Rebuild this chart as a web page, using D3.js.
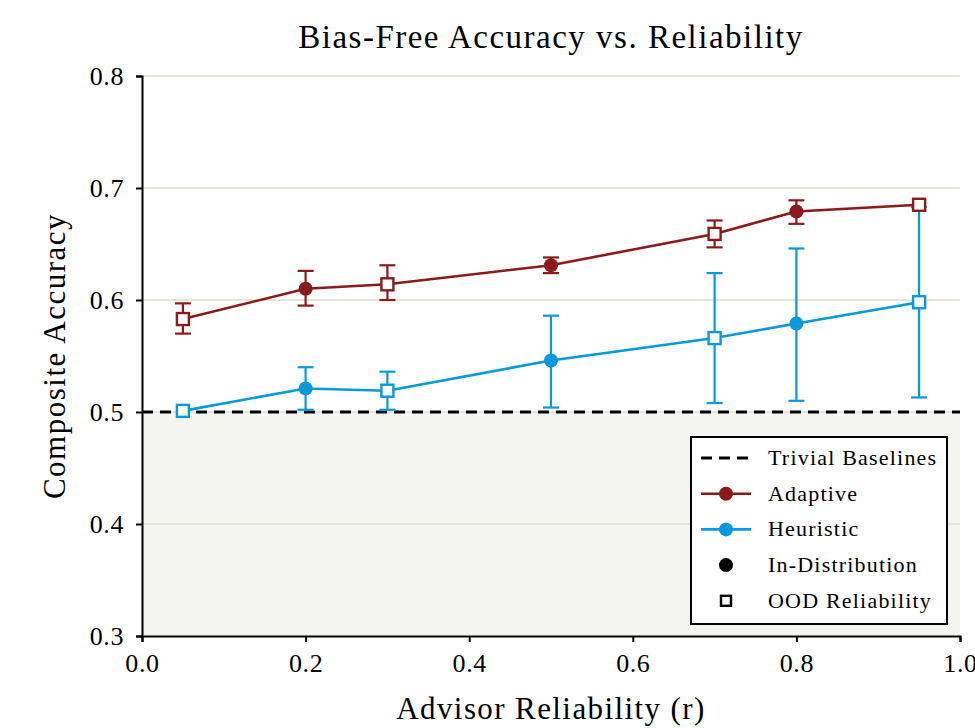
<!DOCTYPE html>
<html>
<head>
<meta charset="utf-8">
<script src="https://cdn.jsdelivr.net/npm/d3@7"></script>
<style>
  body { margin: 0; background: #fff; }
  svg { font-family: "Liberation Serif", "DejaVu Serif", serif; }
</style>
</head>
<body>
<svg id="chart" width="975" height="728"></svg>
<script>
// advisor reliability values
const reliability = [0.05, 0.2, 0.3, 0.5, 0.7, 0.8, 0.95];
// which points are out-of-distribution (square markers)
const isOOD = [true, false, true, false, true, false, true];

const adaptiveMean = [0.583, 0.610, 0.614, 0.631, 0.659, 0.679, 0.685];
const adaptiveLow = [0.570, 0.595, 0.600, 0.624, 0.647, 0.668, 0.683];
const adaptiveHigh = [0.597, 0.626, 0.631, 0.638, 0.671, 0.689, 0.687];

const heuristicMean = [0.501, 0.521, 0.519, 0.546, 0.566, 0.579, 0.598];
const heuristicLow = [0.500, 0.502, 0.502, 0.504, 0.508, 0.510, 0.513];
const heuristicHigh = [0.502, 0.540, 0.536, 0.586, 0.624, 0.646, 0.683];

const baseline = 0.5;
const xTicks = [0, 0.2, 0.4, 0.6, 0.8, 1.0];
const yTicks = [0.3, 0.4, 0.5, 0.6, 0.7, 0.8];

const legendItems = ['Trivial Baselines', 'Adaptive', 'Heuristic', 'In-Distribution', 'OOD Reliability'];

const red = '#8b1a1a';
const blue = '#0799dc';

const svg = d3.select('#chart');
const margin = { left: 142, right: 15, top: 76, bottom: 92 };
const W = 975, H = 728;

const x = d3.scaleLinear().domain([0, 1]).range([margin.left, W - margin.right]);
const y = d3.scaleLinear().domain([0.3, 0.8]).range([H - margin.bottom, margin.top]);

// shaded region below baseline
svg.append('rect')
  .attr('x', x(0)).attr('y', y(baseline))
  .attr('width', x(1) - x(0)).attr('height', y(0.3) - y(baseline))
  .attr('fill', '#f4f4f0');

// grid lines
svg.append('g')
  .selectAll('line')
  .data(yTicks.filter(d => d > 0.3))
  .join('line')
  .attr('x1', x(0)).attr('x2', x(1))
  .attr('y1', d => y(d)).attr('y2', d => y(d))
  .attr('stroke', '#dedccd')
  .attr('stroke-width', 1.5);

// baseline
svg.append('line')
  .attr('x1', x(0)).attr('x2', x(1))
  .attr('y1', y(baseline)).attr('y2', y(baseline))
  .attr('stroke', '#000')
  .attr('stroke-width', 3)
  .attr('stroke-dasharray', '11,7');

// axes
const xAxis = svg.append('g')
  .attr('transform', `translate(0,${y(0.3)})`)
  .call(d3.axisBottom(x).tickValues(xTicks).tickFormat(d3.format('.1f')).tickSizeOuter(0).tickSize(6).tickPadding(12));
const yAxis = svg.append('g')
  .attr('transform', `translate(${x(0)},0)`)
  .call(d3.axisLeft(y).tickValues(yTicks).tickFormat(d3.format('.1f')).tickSizeOuter(0).tickSize(6).tickPadding(12));
[xAxis, yAxis].forEach(a => {
  a.select('.domain').attr('stroke-width', 2);
  a.selectAll('.tick line').attr('stroke-width', 2);
  a.selectAll('.tick text')
    .style('font-family', '"Liberation Serif", serif')
    .style('font-size', '26px')
    .style('letter-spacing', '0.6px')
    .attr('fill', '#000');
});

function drawSeries(mean, low, high, color) {
  const g = svg.append('g');
  const pts = reliability.map((r, i) => ({ r, m: mean[i], lo: low[i], hi: high[i], ood: isOOD[i] }));
  // error bars
  const eb = g.selectAll('g.err').data(pts.filter(d => d.hi - d.lo > 0.006)).join('g');
  eb.append('line')
    .attr('x1', d => x(d.r)).attr('x2', d => x(d.r))
    .attr('y1', d => y(d.lo)).attr('y2', d => y(d.hi))
    .attr('stroke', color).attr('stroke-width', 2.2);
  ['lo', 'hi'].forEach(k => {
    eb.append('line')
      .attr('x1', d => x(d.r) - 8).attr('x2', d => x(d.r) + 8)
      .attr('y1', d => y(d[k])).attr('y2', d => y(d[k]))
      .attr('stroke', color).attr('stroke-width', 2.2);
  });
  g.append('path')
    .datum(pts)
    .attr('d', d3.line().x(d => x(d.r)).y(d => y(d.m)))
    .attr('fill', 'none').attr('stroke', color).attr('stroke-width', 2.6);
  g.selectAll('circle').data(pts.filter(d => !d.ood)).join('circle')
    .attr('cx', d => x(d.r)).attr('cy', d => y(d.m)).attr('r', 7)
    .attr('fill', color);
  g.selectAll('rect').data(pts.filter(d => d.ood)).join('rect')
    .attr('x', d => x(d.r) - 6).attr('y', d => y(d.m) - 6)
    .attr('width', 12).attr('height', 12)
    .attr('fill', '#fff').attr('stroke', color).attr('stroke-width', 2.4);
}

drawSeries(heuristicMean, heuristicLow, heuristicHigh, blue);
drawSeries(adaptiveMean, adaptiveLow, adaptiveHigh, red);

// title and labels
svg.append('text')
  .attr('x', (x(0) + x(1)) / 2).attr('y', 48)
  .attr('text-anchor', 'middle').attr('font-size', 33).attr('letter-spacing', 1.5)
  .text('Bias-Free Accuracy vs. Reliability');
svg.append('text')
  .attr('x', (x(0) + x(1)) / 2).attr('y', 719)
  .attr('text-anchor', 'middle').attr('font-size', 31).attr('letter-spacing', 1.4)
  .text('Advisor Reliability (r)');
svg.append('text')
  .attr('transform', `translate(65,${(y(0.3) + y(0.8)) / 2}) rotate(-90)`)
  .attr('text-anchor', 'middle').attr('font-size', 31).attr('letter-spacing', 1.5)
  .text('Composite Accuracy');

// legend
const lg = svg.append('g').attr('transform', 'translate(691,437)');
lg.append('rect').attr('width', 256).attr('height', 187)
  .attr('fill', '#fff').attr('stroke', '#000').attr('stroke-width', 2);
const rowY = i => 21 + i * 35.7;
lg.selectAll('text').data(legendItems).join('text')
  .attr('x', 77).attr('y', (d, i) => rowY(i) + 7)
  .attr('font-size', 22).attr('letter-spacing', 1.2).text(d => d);
// symbols
lg.append('line').attr('x1', 10).attr('x2', 60).attr('y1', rowY(0)).attr('y2', rowY(0))
  .attr('stroke', '#000').attr('stroke-width', 3).attr('stroke-dasharray', '11,7');
[[red, 1], [blue, 2]].forEach(([c, i]) => {
  lg.append('line').attr('x1', 10).attr('x2', 60).attr('y1', rowY(i)).attr('y2', rowY(i))
    .attr('stroke', c).attr('stroke-width', 2.6);
  lg.append('circle').attr('cx', 35).attr('cy', rowY(i)).attr('r', 7).attr('fill', c);
});
lg.append('circle').attr('cx', 35).attr('cy', rowY(3)).attr('r', 7).attr('fill', '#000');
lg.append('rect').attr('x', 30).attr('y', rowY(4) - 5).attr('width', 10).attr('height', 10)
  .attr('fill', '#fff').attr('stroke', '#000').attr('stroke-width', 2.4);
</script>
</body>
</html>
